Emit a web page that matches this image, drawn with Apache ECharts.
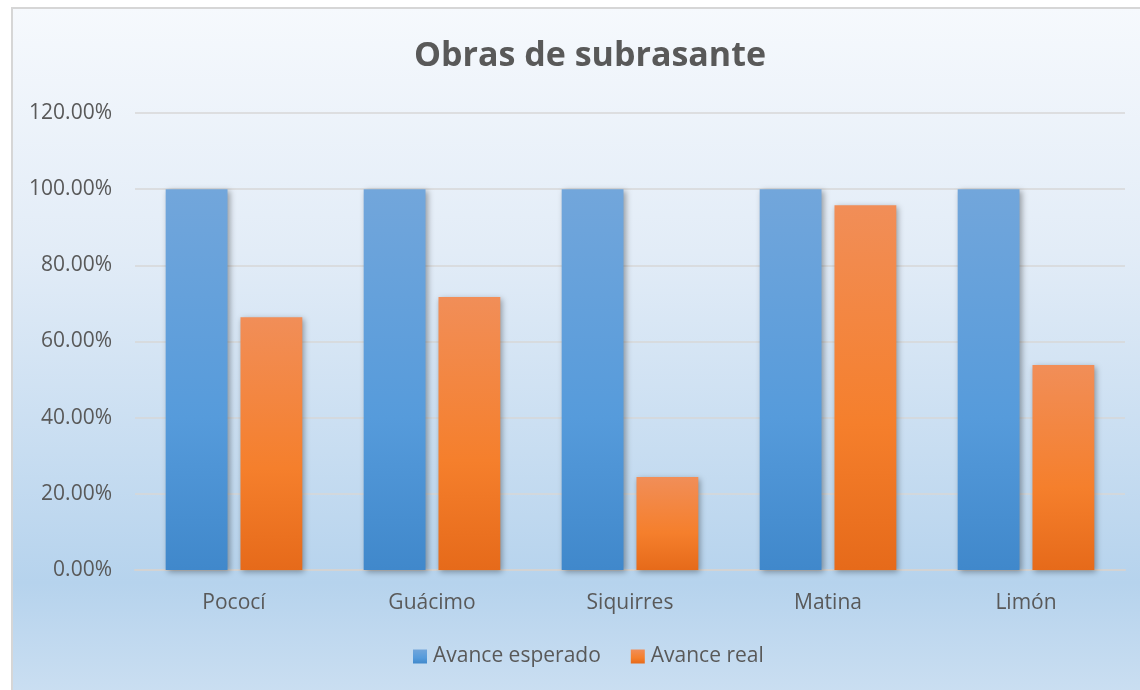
<!DOCTYPE html>
<html><head><meta charset="utf-8">
<script src="https://cdn.jsdelivr.net/npm/echarts@6/dist/echarts.min.js"></script>
<style>html,body{margin:0;padding:0;background:#fff;}#c{width:1140px;height:690px;}</style>
</head><body><div id="c"></div>
<script>
const categories = ['Pococí', 'Guácimo', 'Siquirres', 'Matina', 'Limón'];
const avanceEsperado = [1.00, 1.00, 1.00, 1.00, 1.00];
const avanceReal = [0.664, 0.717, 0.244, 0.958, 0.538];
const seriesNames = ['Avance esperado', 'Avance real'];
const titleText = 'Obras de subrasante';

const FONT = 'Open Sans';
const chart = echarts.init(document.getElementById('c'));
const blue = new echarts.graphic.LinearGradient(0,0,0,1,[{offset:0,color:'#72a6db'},{offset:0.6,color:'#569bdb'},{offset:1,color:'#4088cb'}]);
const orange = new echarts.graphic.LinearGradient(0,0,0,1,[{offset:0,color:'#f18e58'},{offset:0.6,color:'#f57f2c'},{offset:1,color:'#e66a1a'}]);
const shadow = {shadowBlur:6, shadowColor:'rgba(0,0,0,0.35)', shadowOffsetX:2, shadowOffsetY:2};
chart.setOption({
  backgroundColor:'#ffffff',
  animation:false,
  graphic:[{
    type:'rect', left:11, top:7, z:-10, silent:true,
    shape:{width:1140, height:700},
    style:{
      fill:new echarts.graphic.LinearGradient(0,0,0,1,[{offset:0,color:'#f6f9fd'},{offset:0.35,color:'#e2ecf7'},{offset:0.82,color:'#b6d3ed'},{offset:1,color:'#cde0f2'}]),
      stroke:'#d6d6d6', lineWidth:2
    }
  }],
  title:{text:titleText, left:585, top:34, textAlign:'center',
    textStyle:{fontFamily:FONT, fontSize:34, fontWeight:'bold', color:'#595959'}},
  legend:{bottom:18, left:408, itemWidth:14, itemHeight:14, itemGap:30,
    textStyle:{fontFamily:FONT, fontSize:21, color:'#595959', padding:[0,0,0,1]},
    data:[{name:seriesNames[0], icon:'rect'},{name:seriesNames[1], icon:'rect'}]},
  grid:{left:135, right:15, top:113, bottom:120, containLabel:false},
  xAxis:{type:'category', data:categories,
    axisLine:{lineStyle:{color:'#d3d3d3', width:2}},
    axisTick:{show:false},
    axisLabel:{fontFamily:FONT, fontSize:21, color:'#595959', margin:23}},
  yAxis:{type:'value', min:0, max:1.2, interval:0.2,
    axisLine:{show:false}, axisTick:{show:false},
    splitLine:{lineStyle:{color:'#d7d7d7', width:1.5}},
    axisLabel:{fontFamily:FONT, fontSize:21, color:'#595959', margin:23,
      formatter:v=>(v*100).toFixed(2)+'%'}},
  series:[
    {name:seriesNames[0], type:'bar', data:avanceEsperado, barCategoryGap:'31%', barGap:'21%',
      itemStyle:Object.assign({color:blue}, shadow)},
    {name:seriesNames[1], type:'bar', data:avanceReal,
      itemStyle:Object.assign({color:orange}, shadow)}
  ]
});
</script></body></html>
